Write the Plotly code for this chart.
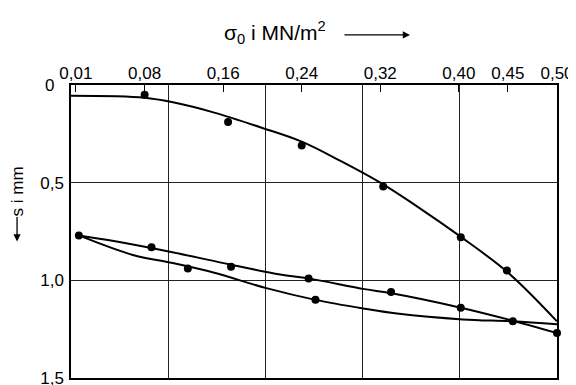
import plotly.graph_objects as go

# ---- data ----
x_tick_vals = [0.01, 0.08, 0.16, 0.24, 0.32, 0.40, 0.45, 0.50]
x_tick_text = ["0,01", "0,08", "0,16", "0,24", "0,32", "0,40", "0,45", "0,50"]
y_tick_vals = [0, 0.5, 1.0, 1.5]
y_tick_text = ["0\u00a0\u00a0", "0,5", "1,0", "1,5"]

# upper curve (fitted line) and its measured points
top_curve_x = [0.005, 0.08, 0.11, 0.15, 0.20, 0.24, 0.28, 0.32, 0.36, 0.40, 0.45, 0.50]
top_curve_s = [0.055, 0.065, 0.09, 0.14, 0.22, 0.29, 0.39, 0.50, 0.63, 0.77, 0.96, 1.21]
top_pts_x = [0.08, 0.165, 0.24, 0.323, 0.402, 0.449]
top_pts_s = [0.05, 0.19, 0.31, 0.52, 0.78, 0.95]

# middle curve
mid_curve_x = [0.013, 0.05, 0.107, 0.168, 0.218, 0.247, 0.304, 0.33, 0.402, 0.45, 0.50]
mid_curve_s = [0.77, 0.80, 0.855, 0.92, 0.97, 0.99, 1.045, 1.065, 1.14, 1.20, 1.27]
mid_pts_x = [0.013, 0.087, 0.168, 0.247, 0.331, 0.402, 0.50]
mid_pts_s = [0.77, 0.83, 0.93, 0.99, 1.06, 1.14, 1.27]

# lower curve
low_curve_x = [0.013, 0.068, 0.107, 0.15, 0.204, 0.254, 0.304, 0.337, 0.404, 0.455, 0.50]
low_curve_s = [0.77, 0.87, 0.91, 0.96, 1.04, 1.10, 1.145, 1.17, 1.20, 1.21, 1.225]
low_pts_x = [0.124, 0.254, 0.455]
low_pts_s = [0.94, 1.10, 1.21]

FONT = "Liberation Sans, Arial, sans-serif"

fig = go.Figure()
for cx, cs in [(top_curve_x, top_curve_s), (mid_curve_x, mid_curve_s), (low_curve_x, low_curve_s)]:
    fig.add_trace(go.Scatter(x=cx, y=cs, mode="lines", line=dict(color="black", width=2, shape="spline"),
                             hoverinfo="skip"))
for px, ps in [(top_pts_x, top_pts_s), (mid_pts_x, mid_pts_s), (low_pts_x, low_pts_s)]:
    fig.add_trace(go.Scatter(x=px, y=ps, mode="markers", marker=dict(color="black", size=8),
                             cliponaxis=False))

fig.update_layout(
    template="none",
    width=576, height=385,
    margin=dict(l=63, r=27, t=77, b=15),
    paper_bgcolor="white", plot_bgcolor="white",
    showlegend=False,
    font=dict(family=FONT, size=17, color="black"),
    xaxis=dict(
        side="top", range=[0.005, 0.50], automargin=False,
        tickmode="array", tickvals=x_tick_vals, ticktext=x_tick_text,
        ticks="inside", ticklen=7, tickwidth=1.3, tickcolor="black",
        ticklabeloverflow="allow", ticklabelstandoff=-3,
        showgrid=False, zeroline=False,
        showline=True, mirror=True, linecolor="black", linewidth=1.5,
        minor=dict(tick0=0.005, dtick=0.099, showgrid=True, gridcolor="#222", gridwidth=1.2, ticks=""),
        tickfont=dict(size=17),
    ),
    yaxis=dict(
        range=[1.5, 0], automargin=False,
        tickmode="array", tickvals=y_tick_vals, ticktext=y_tick_text,
        ticks="", showgrid=True, gridcolor="#222", gridwidth=1.2,
        ticklabeloverflow="allow", ticklabelstandoff=2,
        zeroline=False,
        showline=True, mirror=True, linecolor="black", linewidth=1.5,
        tickfont=dict(size=17),
    ),
    annotations=[
        dict(text="σ<sub>0</sub> i MN/m<sup>2</sup>", xref="paper", yref="paper",
             x=0.42, y=1.178, showarrow=False, font=dict(size=21),
             xanchor="center", yanchor="middle"),
        dict(text="", xref="paper", yref="paper", x=0.6975, y=1.171,
             ax=-67, ay=0, showarrow=True, arrowhead=2, arrowsize=1.1, arrowwidth=1.3,
             arrowcolor="black"),
        dict(text="s i mm", xref="paper", yref="paper", x=-0.111, y=0.637,
             textangle=-90, showarrow=False, font=dict(size=17),
             xanchor="center", yanchor="middle"),
        dict(text="", xref="paper", yref="paper", x=-0.111, y=0.466,
             ax=0, ay=-26, showarrow=True, arrowhead=2, arrowsize=1.1, arrowwidth=1.3,
             arrowcolor="black"),
    ],
)

fig.write_html("out.html")
